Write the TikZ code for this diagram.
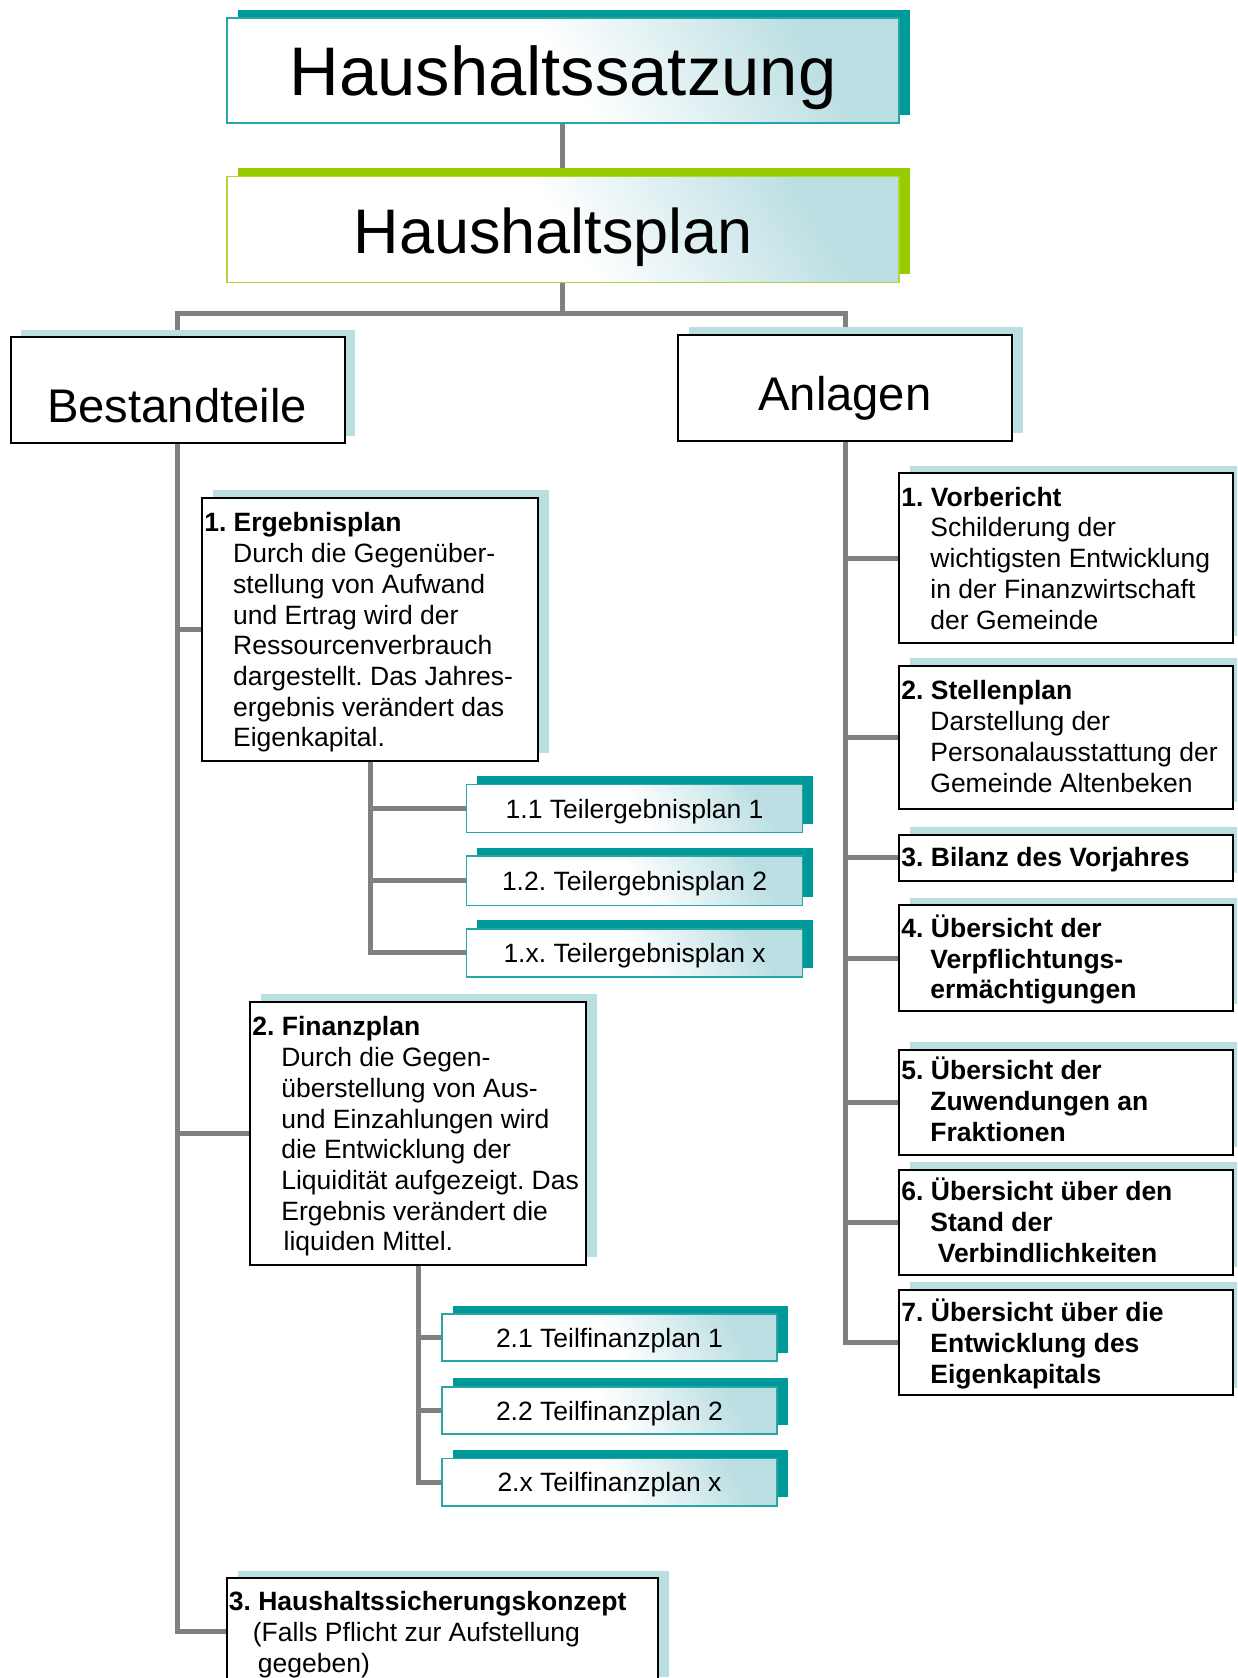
\documentclass[tikz,border=0pt]{standalone}
\usepackage{fontspec}
\setmainfont{Liberation Sans}
\usetikzlibrary{shadows,backgrounds,fit}
\frenchspacing
\definecolor{tealD}{RGB}{0,153,153}
\definecolor{greenD}{RGB}{153,204,0}
\definecolor{shLight}{RGB}{185,223,225}
\definecolor{gradC}{RGB}{186,222,226}
\definecolor{connC}{RGB}{128,128,128}
\definecolor{tealB}{RGB}{40,165,165}
\definecolor{greenB}{RGB}{175,212,60}
\newcommand\setbl{\baselineskip=15.36pt\lineskiplimit=-100pt\lineskip=0pt}
\newcommand\ind{\kern14.45pt}
\newcommand\bodyf{\fontsize{13.25pt}{15.36pt}\selectfont}
\tikzset{
  x=0.53505pt, y=-0.53505pt,
  conn/.style={draw=connC, line width=2.5pt},
  box/.style={draw=black, line width=1pt, fill=white, inner sep=0pt,
    general shadow={fill=shLight, shadow xshift=5.35pt, shadow yshift=3.75pt}},
  gradfill/.style={top color=gradC, bottom color=white, middle color=white, shading angle=-58},
  tbox/.style={gradfill, draw=tealB, line width=0.8pt, inner sep=0pt,
    general shadow={fill=tealD, shadow xshift=5.35pt, shadow yshift=4.28pt}},
  gbox/.style={gradfill, draw=greenB, line width=0.8pt, inner sep=0pt,
    general shadow={fill=greenD, shadow xshift=5.35pt, shadow yshift=4.28pt}},
  txt/.style={anchor=base west, inner sep=0pt, font=\bodyf},
  ctxt/.style={anchor=base, inner sep=0pt, font=\bodyf},
}
\begin{document}
\begin{tikzpicture}
\useasboundingbox (0,0) rectangle (1156,1568);
\clip (0,0) rectangle (1156,1568);
% titles
\node[tbox, fit={(212,17) (840,115)}] (hs) {};
\node[anchor=base, inner sep=0pt, font=\fontsize{34.4pt}{40pt}\selectfont] (hsT) at (526,89) {Haushaltssatzung};
\node[gbox, fit={(212,165) (840,264)}] (hp) {};
\node[anchor=base, inner sep=0pt, font=\fontsize{31.5pt}{38pt}\selectfont] (hpT) at (517,237) {Haushaltsplan};
\node[box, fit={(10,315) (322,414)}] (best) {};
\node[anchor=base, inner sep=0pt, font=\fontsize{23.6pt}{28pt}\selectfont] (bestT) at (165.5,395) {Bestandteile};
\node[box, fit={(634,313) (946,412)}] (anl) {};
\node[anchor=base, inner sep=0pt, font=\fontsize{23.6pt}{28pt}\selectfont] (anlT) at (789.5,384) {Anlagen};
% left column
\node[box, fit={(189,465) (503,711)}] (erg) {};
\node[txt] (ergT) at (190.5,497) {\vtop{\setbl
  \hbox{\textbf{1. Ergebnisplan}}
  \hbox{\ind Durch die Gegenüber-}
  \hbox{\ind stellung von Aufwand}
  \hbox{\ind und Ertrag wird der}
  \hbox{\ind Ressourcenverbrauch}
  \hbox{\ind dargestellt. Das Jahres-}
  \hbox{\ind ergebnis verändert das}
  \hbox{\ind Eigenkapital.}}};
\node[tbox, fit={(436,733) (750,778)}] (te1) {};
\node[ctxt] (te1T) at (593,765) {1.1 Teilergebnisplan 1};
\node[tbox, fit={(436,800) (750,846)}] (te2) {};
\node[ctxt] (te2T) at (593,832) {1.2. Teilergebnisplan 2};
\node[tbox, fit={(436,868) (750,913)}] (te3) {};
\node[ctxt] (te3T) at (593,899) {1.x. Teilergebnisplan x};
\node[box, fit={(234,936) (548,1182)}] (fin) {};
\node[txt] (finT) at (235.5,968) {\vtop{\setbl
  \hbox{\textbf{2. Finanzplan}}
  \hbox{\ind Durch die Gegen-}
  \hbox{\ind überstellung von Aus-}
  \hbox{\ind und Einzahlungen wird}
  \hbox{\ind die Entwicklung der}
  \hbox{\ind Liquidität aufgezeigt. Das}
  \hbox{\ind Ergebnis verändert die}
  \hbox{\ind\kern1.2pt liquiden Mittel.}}};
\node[tbox, fit={(413,1228) (726,1272)}] (tf1) {};
\node[ctxt] (tf1T) at (569.5,1259) {2.1 Teilfinanzplan 1};
\node[tbox, fit={(413,1296) (726,1340)}] (tf2) {};
\node[ctxt] (tf2T) at (569.5,1327) {2.2 Teilfinanzplan 2};
\node[tbox, fit={(413,1363) (726,1407)}] (tf3) {};
\node[ctxt] (tf3T) at (569.5,1394) {2.x Teilfinanzplan x};
\node[box, fit={(212,1475) (615,1574)}] (hsk) {};
\node[txt] (hskT) at (213.5,1505) {\vtop{\setbl
  \hbox{\textbf{3. Haushaltssicherungskonzept}}
  \hbox{\kern12pt(Falls Pflicht zur Aufstellung}
  \hbox{\kern14.5pt gegeben)}}};
% right column
\node[box, fit={(840,442) (1152,601)}] (r1) {};
\node[txt] (r1T) at (842,473) {\vtop{\setbl
  \hbox{\textbf{1. Vorbericht}}
  \hbox{\ind Schilderung der}
  \hbox{\ind wichtigsten Entwicklung}
  \hbox{\ind in der Finanzwirtschaft}
  \hbox{\ind der Gemeinde}}};
\node[box, fit={(840,622) (1152,756)}] (r2) {};
\node[txt] (r2T) at (842,654) {\vtop{\setbl
  \hbox{\textbf{2. Stellenplan}}
  \hbox{\ind Darstellung der}
  \hbox{\ind Personalausstattung der}
  \hbox{\ind Gemeinde Altenbeken}}};
\node[box, fit={(840,780) (1152,823)}] (r3) {};
\node[txt] (r3T) at (842,810) {\textbf{3. Bilanz des Vorjahres}};
\node[box, fit={(840,846) (1152,945)}] (r4) {};
\node[txt] (r4T) at (842,876) {\vtop{\setbl\bfseries
  \hbox{4. Übersicht der}
  \hbox{\ind Verpflichtungs-}
  \hbox{\ind ermächtigungen}}};
\node[box, fit={(840,981) (1152,1079)}] (r5) {};
\node[txt] (r5T) at (842,1009) {\vtop{\setbl\bfseries
  \hbox{5. Übersicht der}
  \hbox{\ind Zuwendungen an}
  \hbox{\ind Fraktionen}}};
\node[box, fit={(840,1093) (1152,1191)}] (r6) {};
\node[txt] (r6T) at (842,1122) {\vtop{\setbl\bfseries
  \hbox{6. Übersicht über den}
  \hbox{\ind Stand der}
  \hbox{\ind\kern3.7pt Verbindlichkeiten}}};
\node[box, fit={(840,1205) (1152,1304)}] (r7) {};
\node[txt] (r7T) at (842,1235) {\vtop{\setbl\bfseries
  \hbox{7. Übersicht über die}
  \hbox{\ind Entwicklung des}
  \hbox{\ind Eigenkapitals}}};
% connectors
\begin{scope}[on background layer]
  \draw[conn] (hs.south) -- (hp.north);
  \draw[conn] (hp.south) -- ++(0,28) -| (best.north);
  \draw[conn] (hp.south) -- ++(0,28) -| (anl.north);
  \draw[conn] (best.south) |- (erg.west);
  \draw[conn] (best.south) |- (fin.west);
  \draw[conn] (best.south) |- (hsk.west);
  \draw[conn] (erg.south) |- (te1.west);
  \draw[conn] (erg.south) |- (te2.west);
  \draw[conn] (erg.south) |- (te3.west);
  \draw[conn] (fin.south) |- (tf1.west);
  \draw[conn] (fin.south) |- (tf2.west);
  \draw[conn] (fin.south) |- (tf3.west);
  \foreach \r in {r1,r2,r3,r4,r5,r6,r7}
    \draw[conn] (anl.south) |- (\r.west);
\end{scope}
\end{tikzpicture}
\end{document}
